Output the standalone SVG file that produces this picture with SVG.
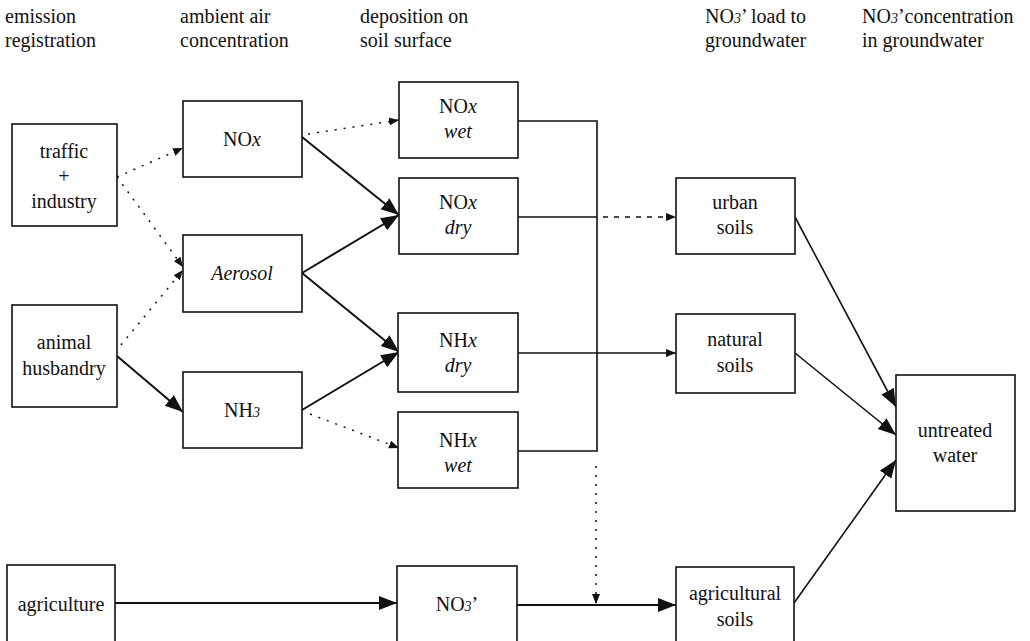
<svg xmlns="http://www.w3.org/2000/svg" width="1030" height="641" viewBox="0 0 1030 641">
<style>
text{font-family:'Liberation Serif','Times New Roman','DejaVu Serif',serif;font-size:20px;fill:#111}
.c{text-anchor:middle}
.i{font-style:italic}
.s{font-style:italic;font-size:14px}
rect{fill:#fff;stroke:#111;stroke-width:1.6}
.ln{fill:none;stroke:#111;stroke-width:1.6}
.bd{fill:none;stroke:#111;stroke-width:2}
.dot{fill:none;stroke:#111;stroke-width:1.5;stroke-dasharray:2 7}
.dsh{fill:none;stroke:#111;stroke-width:1.4;stroke-dasharray:5 6}
</style>
<defs>
<marker id="big" markerUnits="userSpaceOnUse" markerWidth="20" markerHeight="16" refX="18" refY="7" orient="auto"><path d="M0,0 L18,7 L0,14 Z" fill="#111"/></marker>
<marker id="sm" markerUnits="userSpaceOnUse" markerWidth="12" markerHeight="10" refX="10" refY="4" orient="auto"><path d="M0,0 L10,4 L0,8 Z" fill="#111"/></marker>
</defs>
<g id="headers">
<text x="5" y="23">emission</text><text x="5" y="47">registration</text>
<text x="180" y="23">ambient air</text><text x="180" y="47">concentration</text>
<text x="360" y="23">deposition on</text><text x="360" y="47">soil surface</text>
<text x="705" y="23">NO<tspan class="s">3</tspan>’ load to</text><text x="705" y="47">groundwater</text>
<text x="862" y="23">NO<tspan class="s">3</tspan>’concentration</text><text x="862" y="47">in groundwater</text>
</g>
<g id="connectors">
<line class="dot" x1="117" y1="177" x2="183" y2="148" marker-end="url(#sm)"/>
<line class="dot" x1="117" y1="177" x2="183" y2="267" marker-end="url(#sm)"/>
<line class="dot" x1="121" y1="345" x2="183" y2="270" marker-end="url(#sm)"/>
<line class="bd" x1="117" y1="356" x2="183" y2="412" marker-end="url(#big)"/>
<line class="dot" x1="308" y1="134" x2="399" y2="120" marker-end="url(#sm)"/>
<line class="bd" x1="302" y1="137" x2="399" y2="215" marker-end="url(#big)"/>
<line class="bd" x1="302" y1="273" x2="399" y2="215" marker-end="url(#big)"/>
<line class="bd" x1="302" y1="273" x2="399" y2="352" marker-end="url(#big)"/>
<line class="bd" x1="302" y1="410" x2="399" y2="352" marker-end="url(#big)"/>
<line class="dot" x1="310" y1="414" x2="399" y2="448" marker-end="url(#sm)"/>
<polyline class="ln" points="518,121 597,121 597,451 518,451"/>
<line class="ln" x1="518" y1="217" x2="597" y2="217"/>
<line class="dsh" x1="603" y1="217" x2="676" y2="217" marker-end="url(#sm)"/>
<line class="ln" x1="518" y1="353" x2="676" y2="353" marker-end="url(#sm)"/>
<line class="dot" x1="596" y1="466" x2="596" y2="604" marker-end="url(#sm)"/>
<line class="bd" x1="115" y1="603" x2="397" y2="603" marker-end="url(#big)"/>
<line class="bd" x1="517" y1="605" x2="676" y2="605" marker-end="url(#big)"/>
<line class="ln" x1="795" y1="217" x2="896" y2="407" marker-end="url(#big)"/>
<line class="ln" x1="795" y1="353" x2="896" y2="435" marker-end="url(#big)"/>
<line class="ln" x1="794" y1="603" x2="896" y2="460" marker-end="url(#big)"/>
</g>
<g id="traffic"><rect x="12" y="124" width="105" height="102"/><text class="c" x="64" y="158">traffic</text><text class="c" x="64" y="183">+</text><text class="c" x="64" y="208">industry</text></g>
<g id="animal"><rect x="12" y="305" width="105" height="102"/><text class="c" x="64" y="349">animal</text><text class="c" x="64" y="375">husbandry</text></g>
<g id="agriculture"><rect x="7" y="565" width="108" height="100"/><text class="c" x="61" y="611">agriculture</text></g>
<g id="nox"><rect x="183" y="101" width="119" height="76"/><text class="c" x="242" y="146">NO<tspan class="i">x</tspan></text></g>
<g id="aerosol"><rect x="183" y="235" width="119" height="77"/><text class="c i" x="242" y="280">Aerosol</text></g>
<g id="nh3"><rect x="183" y="372" width="119" height="76"/><text class="c" x="242" y="417">NH<tspan class="s">3</tspan></text></g>
<g id="noxwet"><rect x="399" y="82" width="119" height="76"/><text class="c" x="458" y="113">NO<tspan class="i">x</tspan></text><text class="c i" x="458" y="138">wet</text></g>
<g id="noxdry"><rect x="399" y="178" width="119" height="76"/><text class="c" x="458" y="209">NO<tspan class="i">x</tspan></text><text class="c i" x="458" y="234">dry</text></g>
<g id="nhxdry"><rect x="398" y="313" width="120" height="79"/><text class="c" x="458" y="347">NH<tspan class="i">x</tspan></text><text class="c i" x="458" y="372">dry</text></g>
<g id="nhxwet"><rect x="398" y="412" width="120" height="76"/><text class="c" x="458" y="447">NH<tspan class="i">x</tspan></text><text class="c i" x="458" y="472">wet</text></g>
<g id="no3"><rect x="397" y="566" width="120" height="100"/><text class="c" x="457" y="611">NO<tspan class="s">3</tspan>’</text></g>
<g id="urban"><rect x="676" y="178" width="119" height="76"/><text class="c" x="735" y="209">urban</text><text class="c" x="735" y="234">soils</text></g>
<g id="natural"><rect x="676" y="314" width="119" height="79"/><text class="c" x="735" y="346">natural</text><text class="c" x="735" y="372">soils</text></g>
<g id="agrisoils"><rect x="676" y="567" width="118" height="100"/><text class="c" x="735" y="600">agricultural</text><text class="c" x="735" y="626">soils</text></g>
<g id="water"><rect x="896" y="375" width="119" height="136"/><text class="c" x="955" y="437">untreated</text><text class="c" x="955" y="462">water</text></g>
</svg>
